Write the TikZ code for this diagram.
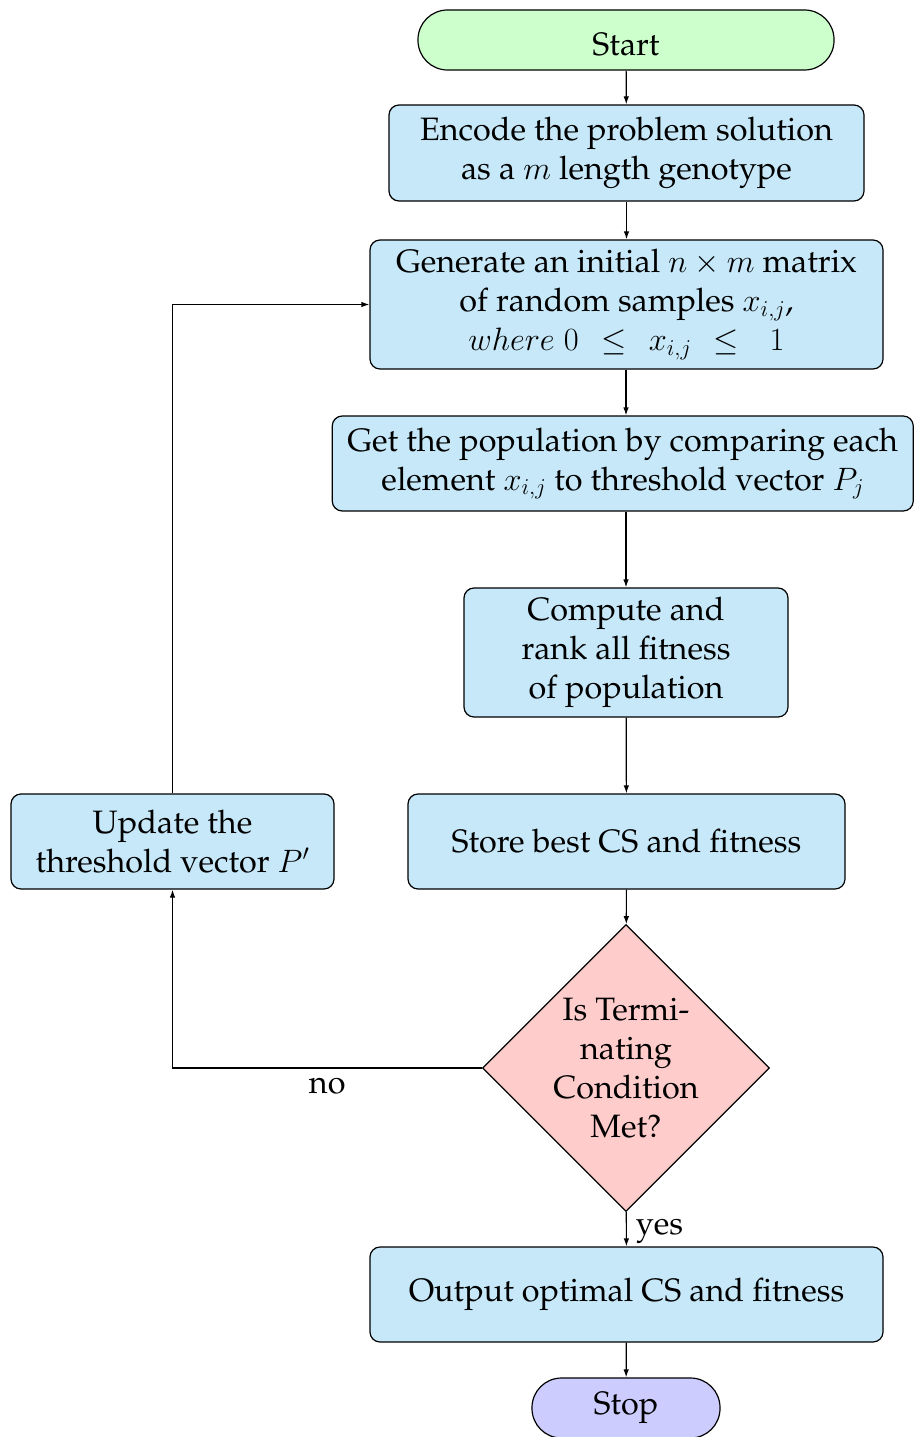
\RequirePackage{fix-cm}
\documentclass[tikz,border=0pt]{standalone}
\usepackage[T1]{fontenc}
\renewcommand{\rmdefault}{ppl}
\usetikzlibrary{shapes.geometric,arrows.meta}
\definecolor{boxblue}{RGB}{198,232,248}
\definecolor{startgreen}{RGB}{204,255,204}
\definecolor{decpink}{RGB}{255,204,204}
\definecolor{stopviolet}{RGB}{204,204,255}
\begin{document}
\begin{tikzpicture}[x=1bp,y=-1bp,
  every node/.style={font=\fontsize{32.5}{39}\selectfont, align=center, inner sep=0pt},
  process/.style={draw, line width=1.2bp, fill=boxblue, rounded corners=10bp},
  terminal/.style={draw, line width=1.2bp, rounded corners=29.5bp, minimum height=60bp},
  decision/.style={draw, line width=1.2bp, fill=decpink, diamond, aspect=1,
    minimum width=287bp, minimum height=287bp},
  flow/.style={line width=1.2bp, -{Latex[length=8bp,width=5.5bp]}}]
\useasboundingbox (0,0) rectangle (914,1437);

\node[terminal, fill=startgreen, minimum width=416bp] (start) at (626,40)
  {\raisebox{-15.2bp}[0pt][0pt]{Start}};
\node[process, minimum width=475bp, minimum height=96bp] (encode) at (626.5,153)
  {Encode the problem solution\\ as a $m$ length genotype};
\node[process, minimum width=513bp, minimum height=129bp] (gen) at (626.5,304.5)
  {Generate an initial $n \times m$ matrix\\ of random samples $x_{i,j}$,\\
   $where\;0\ \,\leq\ \,x_{i,j}\ \,\leq\ \ \,1$};
\node[process, minimum width=581bp, minimum height=95bp] (pop) at (622.75,463.5)
  {Get the population by comparing each\\ element $x_{i,j}$ to threshold vector $P_j$};
\node[process, minimum width=324bp, minimum height=129bp] (comp) at (626,652.5)
  {Compute and\\ rank all fitness\\ of population};
\node[process, minimum width=437bp, minimum height=95bp] (store) at (626.5,841.5)
  {Store best CS and fitness};
\node[process, minimum width=323bp, minimum height=95bp] (upd) at (172.5,841.5)
  {Update the\\ threshold vector $P'$};
\node[decision] (cond) at (626,1068)
  {Is Termi-\\ nating\\ Condition\\ Met?};
\node[process, minimum width=513bp, minimum height=95bp] (out) at (626.5,1294.5)
  {Output optimal CS and fitness};
\node[terminal, fill=stopviolet, minimum width=188bp] (stop) at (626,1408) {Stop};

\draw[flow] (start) -- (encode);
\draw[flow] (encode) -- (gen);
\draw[flow] (gen.south -| start) -- (pop.north -| start);
\draw[flow] (pop.south -| start) -- (comp);
\draw[flow] (comp) -- (store);
\draw[flow] (store) -- (cond);
\draw[flow] (cond) -- node[right, xshift=9bp, yshift=-2bp] {yes} (out);
\draw[flow] (out) -- (stop);
\draw[flow] (cond.west) -- node[below, yshift=-9bp] {no} (cond.west -| upd) -- (upd.south);
\draw[flow] (upd.north) -- (upd.north |- gen.west) -- (gen.west);
\end{tikzpicture}
\end{document}
